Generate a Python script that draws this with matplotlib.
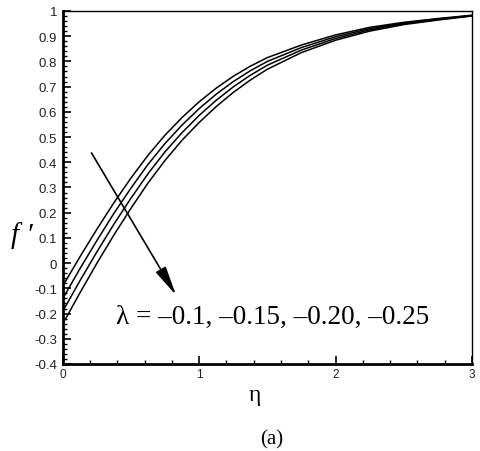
import numpy as np
import matplotlib.pyplot as plt
from matplotlib.ticker import MultipleLocator

# valeurs
eta = [0, 0.125, 0.25, 0.375, 0.5, 0.625, 0.75, 0.875, 1.0, 1.125, 1.25, 1.375, 1.5,
       1.75, 2.0, 2.25, 2.5, 2.75, 3.0]
f_l010 = [-0.09, 0.025, 0.135, 0.24, 0.338, 0.428, 0.508, 0.578, 0.64, 0.694, 0.741, 0.781, 0.815,
          0.865, 0.905, 0.935, 0.955, 0.97, 0.983]
f_l015 = [-0.14, -0.022, 0.09, 0.198, 0.298, 0.392, 0.475, 0.548, 0.613, 0.67, 0.72, 0.763, 0.8,
          0.855, 0.898, 0.93, 0.952, 0.968, 0.982]
f_l020 = [-0.19, -0.07, 0.045, 0.155, 0.258, 0.355, 0.442, 0.518, 0.586, 0.646, 0.699, 0.745, 0.785,
          0.845, 0.891, 0.925, 0.949, 0.966, 0.981]
f_l025 = [-0.24, -0.118, 0.0, 0.112, 0.218, 0.318, 0.408, 0.488, 0.558, 0.621, 0.677, 0.726, 0.769,
          0.835, 0.884, 0.92, 0.946, 0.964, 0.98]
courbes = [f_l010, f_l015, f_l020, f_l025]

fig = plt.figure(figsize=(4.8, 4.52), dpi=100)
ax = fig.add_axes([0.131, 0.1925, 0.852, 0.781])

for c in courbes:
    ax.plot(eta, c, color='black', linewidth=1.1)

ax.set_xlim(0, 3)
ax.set_ylim(-0.4, 1)
ax.xaxis.set_major_locator(MultipleLocator(1))
ax.xaxis.set_minor_locator(MultipleLocator(0.2))
ax.yaxis.set_minor_locator(MultipleLocator(0.02))
ax.set_yticks(np.arange(-0.4, 1.01, 0.1))
ax.set_yticklabels(['-0.4', '-0.3', '-0.2', '-0.1', '0', '0.1', '0.2', '0.3', '0.4',
                    '0.5', '0.6', '0.7', '0.8', '0.9', '1'])
ax.tick_params(which='both', direction='in', color='black')
ax.tick_params(which='major', length=6, width=1.2)
ax.tick_params(which='minor', length=3, width=1)
ax.tick_params(axis='y', labelsize=9.5, pad=4)
ax.tick_params(axis='x', labelsize=8.5, pad=3)
for lab in ax.get_xticklabels() + ax.get_yticklabels():
    lab.set_family('Liberation Sans')
    lab.set_color('#222222')

ax.spines['left'].set_linewidth(2)
ax.spines['bottom'].set_linewidth(2)
ax.spines['top'].set_linewidth(1)
ax.spines['right'].set_linewidth(1)

# fleche
ax.annotate('', xy=(0.83, -0.127), xytext=(0.21, 0.437),
            arrowprops=dict(arrowstyle='-|>,head_length=1.8,head_width=0.35',
                            color='black', lw=1.2, shrinkA=0, shrinkB=0))
ax.text(0.39, -0.21, 'λ = –0.1, –0.15, –0.20, –0.25', family='Liberation Serif',
        fontsize=19.5, va='center', ha='left')

fig.text(0.045, 0.478, "f ′", family='Liberation Serif', style='italic', fontsize=21,
         ha='center', va='center')
fig.text(0.531, 0.126, 'η', family='Liberation Serif', fontsize=17, ha='center', va='center')
fig.text(0.567, 0.027, '(a)', family='Liberation Serif', fontsize=15, ha='center', va='center')

fig.savefig('out.png', dpi=100)
